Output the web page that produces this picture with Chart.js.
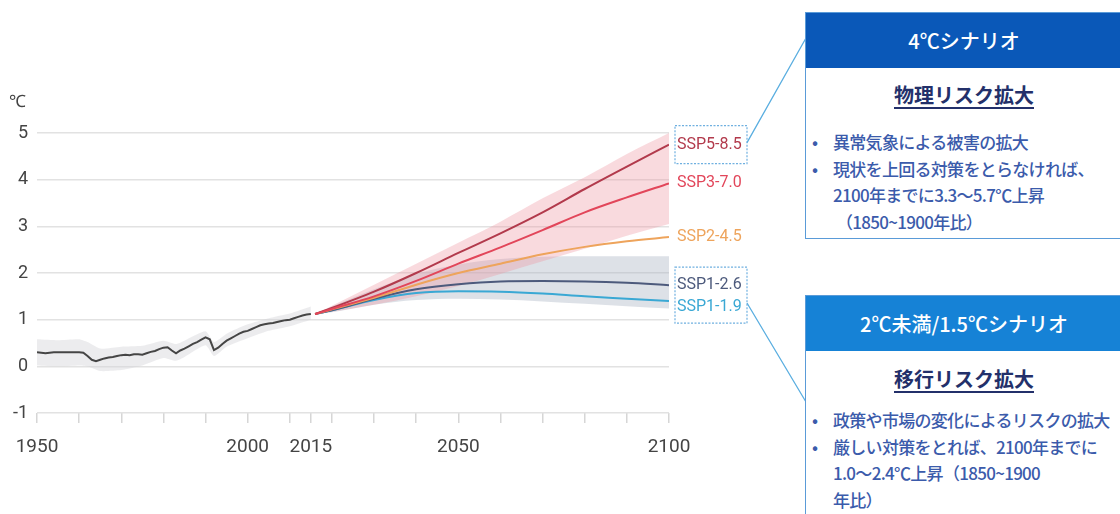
<!DOCTYPE html>
<html>
<head>
<meta charset="utf-8">
<script src="https://cdn.jsdelivr.net/npm/chart.js@4.4.1/dist/chart.umd.min.js"></script>
<style>
  body { margin: 0; background: #fff; font-family: "Noto Sans CJK JP", sans-serif; }
  #wrap { position: relative; width: 1120px; height: 514px; overflow: hidden; }
  #my-chart { position: absolute; left: 0; top: 0; }
  .box { position: absolute; left: 805px; width: 316px; border: 1.5px solid #5a9bd8; background: #fff; }
  .head { color: #fff; text-align: center; font-size: 20px; font-weight: 500; }
  .sub { text-align: center; font-size: 20px; font-weight: 700; color: #23306a; text-decoration: underline; text-underline-offset: 4px; }
  .li { position: relative; padding-left: 27px; color: #3b5bab; font-size: 17px; font-weight: 500; line-height: 26.5px; letter-spacing: -0.7px; white-space: nowrap; }
  .li:before { content: "•"; position: absolute; left: 6px; }
  .cont { padding-left: 27px; color: #3b5bab; font-size: 17px; font-weight: 500; line-height: 26.5px; letter-spacing: -0.7px; white-space: nowrap; }
</style>
</head>
<body>
<div id="wrap">
  <canvas id="my-chart" width="1120" height="514"></canvas>

  <div class="box" style="top:12px; height:225px;">
    <div class="head" style="background:#0a58b8; height:55px; line-height:55px;">4℃シナリオ</div>
    <div class="sub" style="margin-top:14px; line-height:26px;">物理リスク拡大</div>
    <div style="margin-top:21px;">
      <div class="li">異常気象による被害の拡大</div>
      <div class="li">現状を上回る対策をとらなければ、</div>
      <div class="cont">2100年までに3.3～5.7℃上昇</div>
      <div class="cont" style="padding-left:30px;">（1850~1900年比）</div>
    </div>
  </div>

  <div class="box" style="top:295px; height:240px;">
    <div class="head" style="background:#1682d6; height:55px; line-height:55px;">2℃未満/1.5℃シナリオ</div>
    <div class="sub" style="margin-top:15px; line-height:26px;">移行リスク拡大</div>
    <div style="margin-top:15px;">
      <div class="li">政策や市場の変化によるリスクの拡大</div>
      <div class="li">厳しい対策をとれば、2100年までに</div>
      <div class="cont">1.0～2.4℃上昇（1850~1900</div>
      <div class="cont">年比）</div>
    </div>
  </div>
</div>

<script>
// observed warming 1950-2015 (℃)
const histYears = [1950,1951,1952,1953,1954,1955,1956,1957,1958,1959,1960,1961,1962,1963,1964,1965,1966,1967,1968,1969,
  1970,1971,1972,1973,1974,1975,1976,1977,1978,1979,1980,1981,1982,1983,1984,1985,1986,1987,1988,1989,
  1990,1991,1992,1993,1994,1995,1996,1997,1998,1999,2000,2001,2002,2003,2004,2005,2006,2007,2008,2009,
  2010,2011,2012,2013,2014,2015];
const histValues = [0.30,0.29,0.28,0.29,0.30,0.30,0.30,0.30,0.30,0.30,0.30,0.29,0.22,0.14,0.11,0.14,0.17,0.19,0.20,0.22,
  0.24,0.25,0.24,0.26,0.26,0.25,0.28,0.31,0.33,0.37,0.40,0.41,0.34,0.28,0.34,0.38,0.43,0.48,0.52,0.57,
  0.62,0.58,0.35,0.40,0.48,0.55,0.60,0.65,0.70,0.74,0.76,0.80,0.84,0.88,0.90,0.92,0.93,0.95,0.97,0.99,
  1.00,1.03,1.06,1.09,1.11,1.12];

// observed uncertainty band
const bandYears = [1950,1955,1960,1962,1965,1970,1975,1980,1983,1985,1990,1992,1995,2000,2005,2010,2015];
const bandUpper = [0.58,0.56,0.58,0.52,0.38,0.42,0.44,0.55,0.48,0.55,0.75,0.52,0.70,0.90,1.03,1.13,1.28];
const bandLower = [0.02,0.00,0.02,0.00,-0.10,-0.08,0.02,0.18,0.12,0.20,0.45,0.22,0.42,0.60,0.76,0.86,1.00];

// scenario projections
const projYears = [2016,2020,2030,2040,2050,2060,2070,2080,2090,2100];
const ssp585 = [1.12,1.25,1.60,2.00,2.43,2.85,3.30,3.80,4.28,4.75];
const ssp370 = [1.12,1.23,1.50,1.83,2.20,2.55,2.92,3.30,3.62,3.92];
const ssp245 = [1.12,1.22,1.47,1.75,2.00,2.20,2.40,2.56,2.68,2.77];
const ssp126 = [1.12,1.20,1.45,1.65,1.76,1.82,1.83,1.82,1.79,1.74];
const ssp119 = [1.12,1.20,1.42,1.57,1.61,1.60,1.56,1.50,1.45,1.40];

// very likely ranges
const redUpper  = [1.12,1.30,1.75,2.20,2.65,3.10,3.60,4.05,4.55,5.00];
const redLower  = [1.12,1.17,1.32,1.50,1.72,1.98,2.25,2.52,2.80,3.05];
const greyUpper = [1.12,1.28,1.65,1.98,2.18,2.30,2.35,2.36,2.36,2.36];
const greyLower = [1.12,1.16,1.32,1.42,1.45,1.43,1.39,1.34,1.29,1.24];

const scenarioNames = ['SSP5-8.5','SSP3-7.0','SSP2-4.5','SSP1-2.6','SSP1-1.9'];
const scenarioColors = ['#b23a4c','#e2465a','#eea45c','#4d5a7c','#3aa8d4'];
const scenarioOrder = [3, 2, 4, 5, 6];

const xTickValues = [1950,1960,1970,1980,1990,2000,2010,2015,2020,2030,2040,2050,2060,2070,2080,2090,2100];
const xTickLabels = [1950,2000,2015,2050,2100];
const yTickValues = [-1,0,1,2,3,4,5];

function pts(xs, ys) { return xs.map((x, i) => ({ x: x, y: ys[i] })); }

const projSeries = [ssp585, ssp370, ssp245, ssp126, ssp119];

const datasets = [
  { data: pts(bandYears, bandUpper), borderWidth: 0, pointRadius: 0, fill: '+1', backgroundColor: 'rgba(212,212,218,0.45)', order: 10, tension: 0.2 },
  { data: pts(bandYears, bandLower), borderWidth: 0, pointRadius: 0, fill: false, order: 11, tension: 0.2 },
  { data: pts(projYears, redUpper), borderWidth: 0, pointRadius: 0, fill: '+1', backgroundColor: 'rgba(238,150,160,0.35)', order: 12, cubicInterpolationMode: 'monotone' },
  { data: pts(projYears, redLower), borderWidth: 0, pointRadius: 0, fill: false, order: 13, cubicInterpolationMode: 'monotone' },
  { data: pts(projYears, greyUpper), borderWidth: 0, pointRadius: 0, fill: '+1', backgroundColor: 'rgba(165,175,192,0.38)', order: 14, cubicInterpolationMode: 'monotone' },
  { data: pts(projYears, greyLower), borderWidth: 0, pointRadius: 0, fill: false, order: 15, cubicInterpolationMode: 'monotone' },
  { data: pts(histYears, histValues), borderColor: '#454545', borderWidth: 2, pointRadius: 0, fill: false, order: 1 }
];
projSeries.forEach((s, i) => {
  datasets.push({ data: pts(projYears, s), borderColor: scenarioColors[i], borderWidth: 2, pointRadius: 0, fill: false, order: scenarioOrder[i], cubicInterpolationMode: 'monotone' });
});

// scenario labels, boxes and connector lines
const labelPlugin = {
  id: 'labels',
  afterDatasetsDraw(chart) {
    const ctx = chart.ctx;
    const area = chart.chartArea;
    const ys = chart.scales.y;
    const lx = area.right + 8;
    const offsets = [0, 0, 0, 0, 6];
    ctx.save();
    ctx.font = '16px Roboto';
    ctx.textBaseline = 'middle';
    ctx.textAlign = 'left';
    const yPos = [];
    projSeries.forEach((s, i) => {
      const y = ys.getPixelForValue(s[s.length - 1]) + offsets[i];
      yPos.push(y);
      ctx.fillStyle = scenarioColors[i];
      ctx.fillText(scenarioNames[i], lx, y);
    });
    // unit
    ctx.fillStyle = '#444';
    ctx.font = '17px Roboto';
    ctx.fillText('℃', area.left - 28, area.top - 30);

    ctx.strokeStyle = '#6fb0e0';
    ctx.lineWidth = 1.2;
    ctx.setLineDash([2, 1.5]);
    ctx.strokeRect(lx - 2, yPos[0] - 19, 72, 38);
    ctx.strokeRect(lx - 2, yPos[3] - 18, 72, 56);
    ctx.setLineDash([]);
    ctx.strokeStyle = '#5aaee0';
    ctx.lineWidth = 1.3;
    ctx.beginPath();
    ctx.moveTo(lx + 70, yPos[0] - 2);
    ctx.lineTo(806, 38);
    ctx.moveTo(lx + 70, yPos[4] - 4);
    ctx.lineTo(806, 402);
    ctx.stroke();
    ctx.restore();
  }
};

const ctx = document.getElementById('my-chart').getContext('2d');
const chart = new Chart(ctx, {
  type: 'line',
  data: { datasets: datasets },
  options: {
    responsive: false,
    animation: false,
    events: [],
    layout: { padding: { left: 0, right: 451, top: 133, bottom: 41 } },
    plugins: { legend: { display: false }, tooltip: { enabled: false } },
    scales: {
      x: {
        type: 'linear',
        min: 1950,
        max: 2100,
        afterBuildTicks: scale => { scale.ticks = xTickValues.map(v => ({ value: v })); },
        afterFit: scale => { scale.height = 60; },
        ticks: {
          autoSkip: false,
          maxRotation: 0,
          padding: 13,
          color: '#444',
          font: { family: 'Roboto', size: 19 },
          callback: v => xTickLabels.includes(v) ? String(v) : ''
        },
        grid: { drawOnChartArea: false, drawTicks: true, tickLength: 10, color: '#d6d6d6', lineWidth: 1.5 },
        border: { display: false }
      },
      y: {
        min: -1,
        max: 5,
        afterBuildTicks: scale => { scale.ticks = yTickValues.map(v => ({ value: v })); },
        afterFit: scale => { scale.width = 37; },
        ticks: { padding: 9, color: '#444', font: { family: 'Roboto', size: 18 } },
        grid: { color: '#e2e2e2', lineWidth: 1.5, drawTicks: false },
        border: { display: false }
      }
    }
  },
  plugins: [labelPlugin]
});
</script>
</body>
</html>
